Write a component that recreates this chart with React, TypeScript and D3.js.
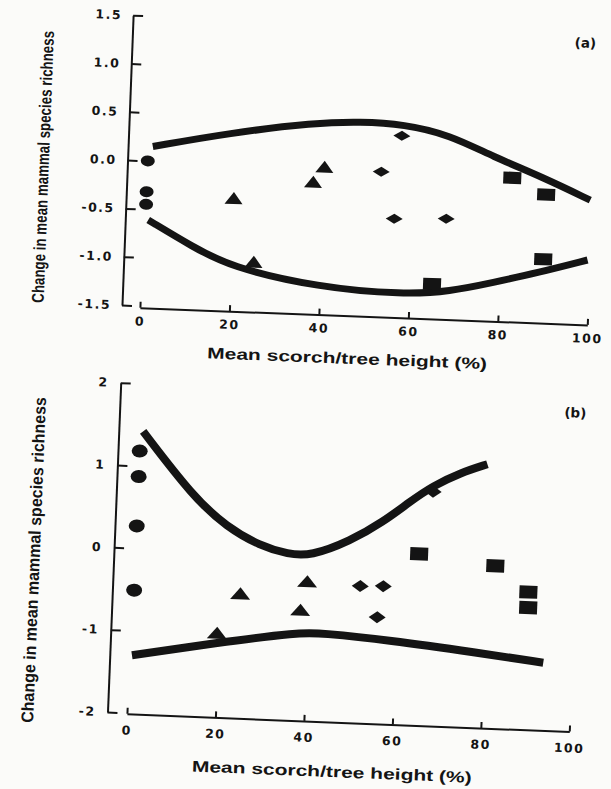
import React, { useEffect, useRef } from 'react'
import * as d3 from 'd3'

// panel (a) — points are [mean scorch %, change in richness]
const aCircles = [[0.5, 0.0], [0.5, -0.32], [0.5, -0.45]]
const aTriangles = [[20, -0.37], [25, -1.02], [37.6, -0.17], [40, -0.01]]
const aDiamonds = [[57, 0.36], [52.7, -0.02], [56, -0.5], [67.6, -0.48]]
const aSquares = [[82, -0.03], [89.7, -0.19], [89.6, -0.86], [65, -1.16]]
const aUpper = [[1.5, 0.15], [18.4, 0.32], [37.5, 0.46], [47.6, 0.49], [57.4, 0.48], [67.6, 0.39], [77.6, 0.18], [88.7, -0.01], [99.6, -0.23]]
const aLower = [[1.1, -0.61], [11.3, -0.87], [19.6, -1.06], [39.6, -1.24], [58.9, -1.28], [69, -1.23], [78.6, -1.12], [88.6, -1.0], [99.5, -0.85]]
const aYTicks = [-1.5, -1.0, -0.5, 0.0, 0.5, 1.0, 1.5]

// panel (b)
const bCircles = [[0.5, 1.18], [0.5, 0.87], [0.5, 0.27], [0.5, -0.51]]
const bTriangles = [[24.5, -0.52], [39.5, -0.34], [38.2, -0.69], [19.6, -1.01]]
const bDiamonds = [[51.5, -0.35], [56.7, -0.34], [55.6, -0.72], [67.1, 0.83]]
const bSquares = [[64.5, 0.07], [81.8, -0.04], [89.5, -0.34], [89.6, -0.53]]
const bUpper = [[1.1, 1.42], [13, 0.65], [20.9, 0.3], [28.5, 0.09], [35, 0.0], [40, -0.01], [48.8, 0.19], [56.1, 0.44], [62, 0.7], [67, 0.9], [73, 1.07], [79.1, 1.19]]
const bLower = [[0.6, -1.3], [19.2, -1.11], [38.4, -0.94], [42.9, -0.94], [58.3, -0.99], [78.5, -1.1], [93.5, -1.19]]
const bYTicks = [-2, -1, 0, 1, 2]

const xTicks = [0, 20, 40, 60, 80, 100]
const xTitle = 'Mean scorch/tree height (%)'
const yTitle = 'Change in mean mammal species richness'

const INK = '#141414'

// marker shapes, drawn a bit wider than tall like the scanned figure
const shapes = {
  circle: (w, h) => `M${-w / 2},0A${w / 2},${h / 2} 0 1,0 ${w / 2},0A${w / 2},${h / 2} 0 1,0 ${-w / 2},0Z`,
  triangle: (w, h) => `M0,${-h * 2 / 3}L${w / 2},${h / 3}L${-w / 2},${h / 3}Z`,
  diamond: (w, h) => `M0,${-h / 2}L${w / 2},0L0,${h / 2}L${-w / 2},0Z`,
  square: (w, h) => `M${-w / 2},${-h / 2}h${w}v${h}h${-w}Z`,
}

const fmt = (d, digits) => (d < 0 ? '-' : '') + Math.abs(d).toFixed(digits)

function drawPanel(svg, p) {
  // the scan is tilted a couple of degrees, so each panel is rotated about its origin
  const g = svg.append('g').attr('transform', `rotate(${p.angle},${p.ox},${p.oy})`)

  const x = d3.scaleLinear().domain([0, 100]).range([p.x0, p.x1])
  const y = d3.scaleLinear().domain(p.yDomain).range([p.oy, p.yTop])

  const yAxis = g.append('g')
    .attr('transform', `translate(${p.ox},0)`)
    .call(d3.axisLeft(y).tickValues(p.yTicks).tickSize(-10).tickSizeOuter(0)
      .tickPadding(p.yPad).tickFormat(d => fmt(d, p.digits)))

  const xAxis = g.append('g')
    .attr('transform', `translate(0,${p.axisY})`)
    .call(d3.axisBottom(x).tickValues(xTicks).tickSize(-6).tickSizeOuter(0)
      .tickPadding(p.xPad))

  for (const ax of [yAxis, xAxis]) {
    ax.select('.domain').attr('stroke', INK).attr('stroke-width', 2)
    ax.selectAll('.tick line').attr('stroke', INK).attr('stroke-width', 2)
    ax.selectAll('text')
      .attr('fill', INK)
      .style('font-family', '"DejaVu Sans", sans-serif')
      .style('font-weight', 'bold')
      .style('font-size', '12.5px')
      .style('letter-spacing', '1.5px')
  }

  const line = d3.line().x(d => x(d[0])).y(d => y(d[1])).curve(d3.curveBasis)
  for (const c of p.curves) {
    g.append('path').attr('d', line(c))
      .attr('fill', 'none').attr('stroke', INK).attr('stroke-width', p.curveWidth)
  }

  const groups = [
    [p.circles, 'circle', p.sizes.circle],
    [p.triangles, 'triangle', p.sizes.triangle],
    [p.diamonds, 'diamond', p.sizes.diamond],
    [p.squares, 'square', p.sizes.square],
  ]
  for (const [pts, kind, sz] of groups) {
    g.append('g').selectAll('path').data(pts).join('path')
      .attr('transform', d => `translate(${x(d[0])},${y(d[1])})`)
      .attr('d', shapes[kind](sz[0], sz[1]))
      .attr('fill', INK)
  }

  g.append('text')
    .attr('x', p.xTitlePos[0]).attr('y', p.xTitlePos[1])
    .attr('text-anchor', 'middle')
    .attr('textLength', 280).attr('lengthAdjust', 'spacingAndGlyphs')
    .style('font-family', '"Liberation Sans", Arial, sans-serif')
    .style('font-weight', 'bold')
    .style('font-size', '15.5px')
    .attr('fill', INK)
    .text(xTitle)

  g.append('text')
    .attr('transform', `translate(${p.yTitlePos[0]},${p.yTitlePos[1]}) rotate(-90)`)
    .attr('text-anchor', 'middle')
    .attr('dominant-baseline', 'central')
    .attr('textLength', p.yTitleLen).attr('lengthAdjust', 'spacingAndGlyphs')
    .style('font-family', '"Liberation Sans Narrow", "Liberation Sans", sans-serif')
    .style('font-weight', 'bold')
    .style('font-size', '17px')
    .attr('fill', INK)
    .text(yTitle)

  g.append('text')
    .attr('x', p.tag[0]).attr('y', p.tag[1])
    .attr('text-anchor', 'middle')
    .attr('dominant-baseline', 'central')
    .style('font-family', '"DejaVu Sans", sans-serif')
    .style('font-weight', 'bold')
    .style('font-size', '13.5px')
    .attr('fill', INK)
    .text(p.label)
}

export default function App() {
  const ref = useRef(null)

  useEffect(() => {
    const svg = d3.select(ref.current)
    svg.selectAll('*').remove()

    drawPanel(svg, {
      angle: 2.2, ox: 122, oy: 305, yTop: 15, axisY: 307,
      x0: 140, x1: 587.7, yDomain: [-1.5, 1.5], yTicks: aYTicks, digits: 1,
      yPad: 11, xPad: 9,
      circles: aCircles, triangles: aTriangles, diamonds: aDiamonds, squares: aSquares,
      curves: [aUpper, aLower], curveWidth: 7,
      sizes: { circle: [14, 11], triangle: [18, 12], diamond: [17, 10], square: [18, 12] },
      xTitlePos: [349, 355], yTitlePos: [38, 170], yTitleLen: 272,
      tag: [575, 25], label: '(a)',
    })

    drawPanel(svg, {
      angle: 2.3, ox: 107.5, oy: 712, yTop: 382.4, axisY: 713,
      x0: 127, x1: 569.7, yDomain: [-2, 2], yTicks: bYTicks, digits: 0,
      yPad: 12, xPad: 12,
      circles: bCircles, triangles: bTriangles, diamonds: bDiamonds, squares: bSquares,
      curves: [bUpper, bLower], curveWidth: 8,
      sizes: { circle: [16, 13], triangle: [20, 12], diamond: [17, 12], square: [18, 13] },
      xTitlePos: [334, 768], yTitlePos: [28, 563], yTitleLen: 326,
      tag: [563, 394], label: '(b)',
    })
  }, [])

  return (
    <svg
      ref={ref}
      width={611}
      height={789}
      style={{ position: 'absolute', left: 0, top: 0, background: '#fbfbf9' }}
    />
  )
}
